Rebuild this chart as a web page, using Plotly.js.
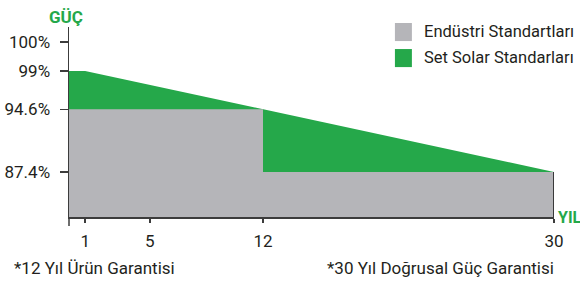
<!DOCTYPE html>
<html>
<head>
<meta charset="utf-8">
<script src="https://cdn.plot.ly/plotly-3.0.1.min.js"></script>
<style>
html,body{margin:0;padding:0;background:#fff;}
#chart{width:580px;height:282px;}
</style>
</head>
<body>
<div id="chart"></div>
<script>
// ---- data ----
const seriesNames = ['Endüstri Standartları', 'Set Solar Standarları'];
const industryYears = [0, 12, 12, 30];
const industryPower = [94.6, 94.6, 87.4, 87.4];
const setSolarYears = [0, 1, 30];
const setSolarPower = [99, 99, 87.4];
const xTickVals = [1, 5, 12, 30];
const xTickText = ['1', '5', '12', '30'];
// the reference uses a broken y scale: 99–100 % is stretched
const yTickValsLower = [87.4, 94.6, 99];
const yTickTextLower = ['87.4%', '94.6%', '99%'];
const yTickValsUpper = [100];
const yTickTextUpper = ['100%'];
const yAxisTitle = 'GÜÇ';
const xAxisTitle = 'YIL';
const footnotes = ['*12 Yıl Ürün Garantisi', '*30 Yıl Doğrusal Güç Garantisi'];

// ---- style ----
const GREEN = '#25a84a';
const GREY = '#b5b5b9';
const AXIS = '#3c3c3c';
const TEXT = '#231f20';
const FONT = 'Roboto, "Noto Sans", sans-serif';
const SPLIT = 0.7684;

const traces = [
  {
    x: setSolarYears, y: setSolarPower, type: 'scatter', mode: 'lines',
    fill: 'tozeroy', fillcolor: GREEN, line: {width: 0, color: GREEN},
    name: seriesNames[1], showlegend: false, hoverinfo: 'skip'
  },
  {
    x: industryYears, y: industryPower, type: 'scatter', mode: 'lines',
    fill: 'tozeroy', fillcolor: GREY, line: {width: 0, color: GREY},
    name: seriesNames[0], showlegend: false, hoverinfo: 'skip'
  },
  // empty trace so the stretched upper y segment (99–100 %) is drawn
  {
    x: [], y: [], type: 'scatter', mode: 'lines', xaxis: 'x', yaxis: 'y2',
    showlegend: false, hoverinfo: 'skip'
  }
];

const legendColors = [GREY, GREEN];
const shapes = [];
const annotations = [];
seriesNames.forEach((n, i) => {
  const yTop = 1.021 - i * 0.137;
  shapes.push({type: 'rect', xref: 'paper', yref: 'paper',
    x0: 0.672, x1: 0.707, y0: yTop - 0.095, y1: yTop,
    fillcolor: legendColors[i], line: {width: 0}});
  annotations.push({xref: 'paper', yref: 'paper', x: 0.728, y: yTop - 0.047,
    xanchor: 'left', yanchor: 'middle', text: n, showarrow: false,
    font: {family: FONT, size: 16.5, color: TEXT}});
});
// axis extension below the x axis and end line at year 30
shapes.push({type: 'line', xref: 'paper', yref: 'paper', x0: 0, x1: 0, y0: 0, y1: -0.047,
  line: {color: AXIS, width: 1.5}});
shapes.push({type: 'line', xref: 'x', yref: 'y', x0: xTickVals[3], x1: xTickVals[3],
  y0: industryPower[3], y1: 81.2, line: {color: '#111', width: 1.5}});

annotations.push({xref: 'paper', yref: 'paper', x: -0.006, y: 1.055, xanchor: 'center', yanchor: 'middle',
  text: '<b>' + yAxisTitle + '</b>', showarrow: false, font: {family: FONT, size: 17, color: GREEN}});
annotations.push({xref: 'paper', yref: 'paper', x: 1.033, y: -0.005, xanchor: 'center', yanchor: 'middle',
  text: '<b>' + xAxisTitle + '</b>', showarrow: false, font: {family: FONT, size: 16, color: GREEN}});
annotations.push({xref: 'paper', yref: 'paper', x: -0.1175, y: -0.268, xanchor: 'left', yanchor: 'middle',
  text: footnotes[0], showarrow: false, font: {family: FONT, size: 17, color: TEXT}});
annotations.push({xref: 'paper', yref: 'paper', x: 1.004, y: -0.268, xanchor: 'right', yanchor: 'middle',
  text: footnotes[1], showarrow: false, font: {family: FONT, size: 17, color: TEXT}});

const yCommon = {
  showgrid: false, zeroline: false, showline: true, linecolor: AXIS, linewidth: 1.5,
  ticks: 'outside', ticklen: 8, tickwidth: 1.5, tickcolor: AXIS,
  tickfont: {family: FONT, size: 17, color: TEXT}, ticklabelstandoff: 6,
  fixedrange: true
};

const layout = {
  width: 580, height: 282,
  margin: {l: 69, r: 26, t: 27, b: 65},
  paper_bgcolor: '#fff', plot_bgcolor: '#fff',
  showlegend: false,
  font: {family: FONT, color: TEXT},
  xaxis: {
    range: [0, 30], tickvals: xTickVals, ticktext: xTickText,
    showgrid: false, zeroline: false, showline: true, linecolor: AXIS, linewidth: 1.5,
    ticks: 'outside', ticklen: 4, tickwidth: 1.5, tickcolor: AXIS,
    tickfont: {family: FONT, size: 17, color: TEXT}, ticklabelstandoff: 4,
    fixedrange: true
  },
  yaxis: Object.assign({}, yCommon, {
    domain: [0, SPLIT], range: [82.22, 99], tickvals: yTickValsLower, ticktext: yTickTextLower
  }),
  yaxis2: Object.assign({}, yCommon, {
    domain: [SPLIT, 1], range: [99, 100.517], tickvals: yTickValsUpper, ticktext: yTickTextUpper,
    anchor: 'x'
  }),
  shapes: shapes,
  annotations: annotations
};

Plotly.newPlot('chart', traces, layout, {displayModeBar: false, staticPlot: true});
</script>
</body>
</html>
